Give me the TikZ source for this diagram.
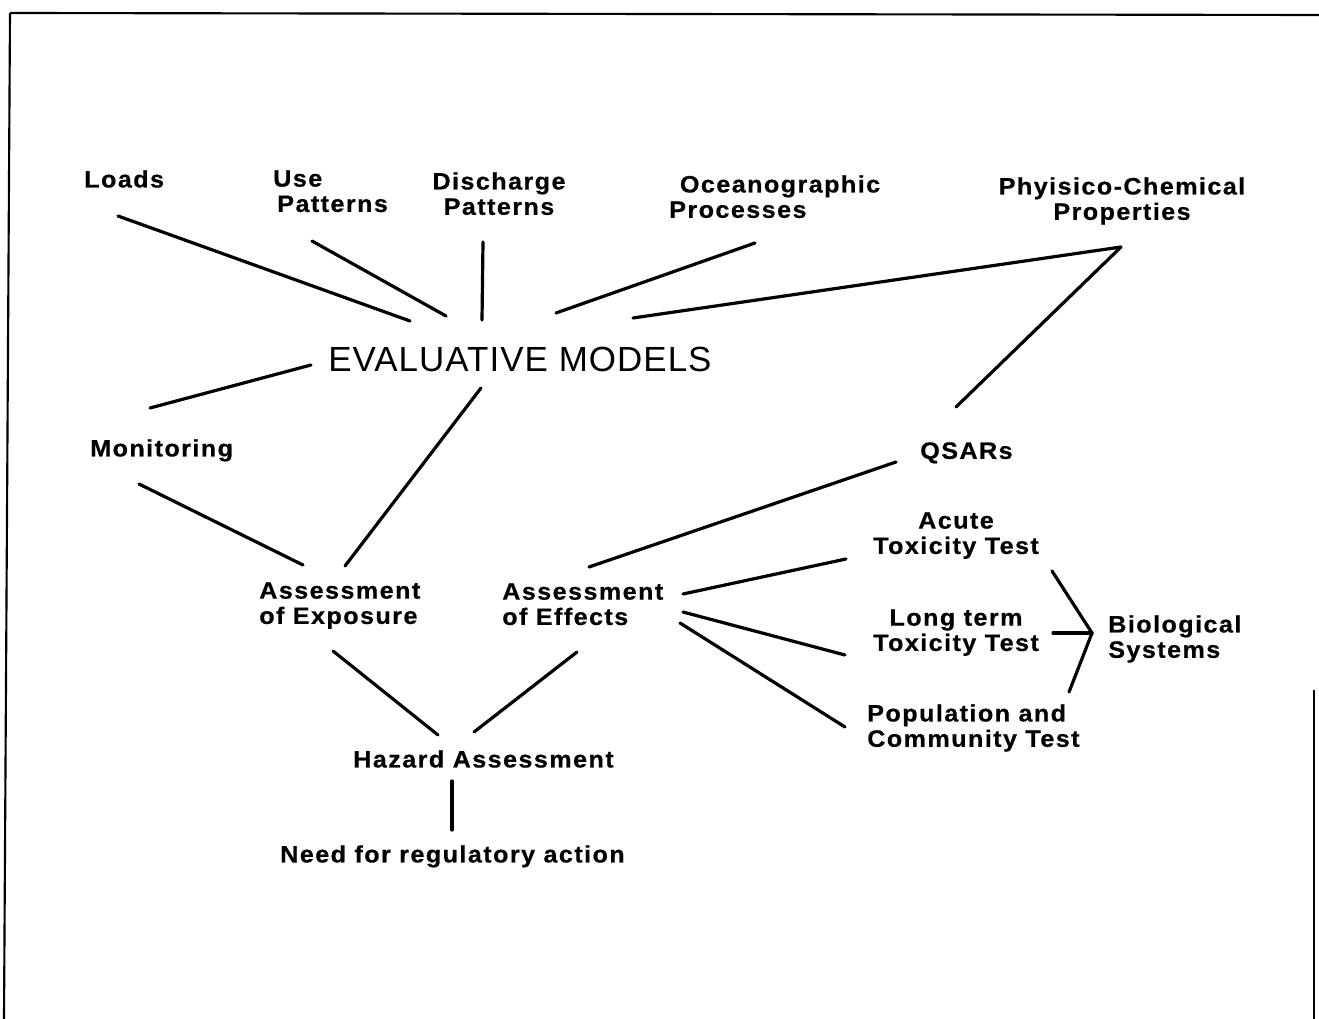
\documentclass[tikz,border=0pt]{standalone}
\usepackage{fontspec}
\setmainfont{Liberation Sans}[LetterSpace=6,FakeStretch=1.06,BoldFeatures={FakeBold=0.5}]
\newfontfamily\titlefont{Liberation Sans}[LetterSpace=3]
\begin{document}
\begin{tikzpicture}[x=0.75pt,y=-0.75pt,
  lbl/.style={inner sep=0pt,font=\fontsize{17.8}{19}\selectfont\bfseries},
  lblL/.style={lbl,align=left,anchor=north west},
  lblC/.style={lbl,align=center,anchor=north},
  title/.style={inner sep=0pt,anchor=north west,font=\titlefont\fontsize{26.2}{28}\selectfont},
  link/.style={line width=2.4pt,line cap=round,line join=round},
  frameline/.style={line width=1.6pt}]
\useasboundingbox (0,0) rectangle (1319,1019);

% page frame
\draw[frameline] (10,13) -- (1319,15);
\draw[frameline] (10,13) -- (4,1019);
\draw[frameline] (1314,690) -- (1314,1019);

% labels
\node[lblL] (loads) at (84,170) {Loads};
\node[lblL] (use) at (273,170) {Use\\\hspace*{3pt}Patterns};
\node[lblC] (disch) at (499,172) {Discharge\\Patterns};
\node[lblL] (ocean) at (669,175) {\hspace*{8pt}Oceanographic\\Processes};
\node[lblC] (phys) at (1122,177) {Phyisico-Chemical\\Properties};
\node[title] (em) at (328,347) {EVALUATIVE MODELS};
\node[lblL] (monit) at (90,439) {Monitoring};
\node[lblL] (qsar) at (920,442) {QSARs};
\node[lblC] (acute) at (956,512) {Acute\\Toxicity Test};
\node[lblL] (expo) at (259,582) {Assessment\\of Exposure};
\node[lblL] (effe) at (502,583) {Assessment\\of Effects};
\node[lblC] (longt) at (956,609) {Long term\\Toxicity Test};
\node[lblL] (bio) at (1108,615) {Biological\\Systems};
\node[lblL] (pop) at (867,704) {Population and\\Community Test};
\node[lblL] (hazard) at (353,750) {Hazard Assessment};
\node[lblL] (need) at (280,845) {Need for regulatory action};

% connector end points
\coordinate (loads-o) at (118,216);
\coordinate (em-loads) at (410,321);
\coordinate (use-o) at (312,241);
\coordinate (em-use) at (446,316);
\coordinate (disch-o) at (483,242);
\coordinate (em-disch) at (482,320);
\coordinate (ocean-o) at (755,243);
\coordinate (em-ocean) at (556,313);
\coordinate (phys-o) at (1121,247);
\coordinate (em-phys) at (633,318);
\coordinate (qsar-up) at (956,407);
\coordinate (em-monit) at (311,365);
\coordinate (monit-up) at (150,408);
\coordinate (em-down) at (481,388);
\coordinate (expo-up) at (345,566);
\coordinate (monit-down) at (139,484);
\coordinate (expo-left) at (303,565);
\coordinate (qsar-down) at (896,462);
\coordinate (effe-up) at (589,567);
\coordinate (effe-a) at (683,594);
\coordinate (acute-in) at (846,559);
\coordinate (effe-b) at (683,612);
\coordinate (longt-in) at (845,655);
\coordinate (effe-c) at (680,623);
\coordinate (pop-in) at (845,727);
\coordinate (expo-down) at (333,651);
\coordinate (hazard-l) at (438,735);
\coordinate (effe-down) at (577,652);
\coordinate (hazard-r) at (474,732);
\coordinate (hazard-down) at (452,781);
\coordinate (need-up) at (452,830);
\coordinate (acute-out) at (1052,571);
\coordinate (longt-out) at (1053,633);
\coordinate (bio-in) at (1092,633);
\coordinate (pop-out) at (1069,692);

% connectors
\draw[link] (loads-o) -- (em-loads);
\draw[link] (use-o) -- (em-use);
\draw[link] (disch-o) -- (em-disch);
\draw[link] (ocean-o) -- (em-ocean);
\draw[link] (em-phys) -- (phys-o) -- (qsar-up);
\draw[link] (em-monit) -- (monit-up);
\draw[link] (em-down) -- (expo-up);
\draw[link] (monit-down) -- (expo-left);
\draw[link] (qsar-down) -- (effe-up);
\draw[link] (effe-a) -- (acute-in);
\draw[link] (effe-b) -- (longt-in);
\draw[link] (effe-c) -- (pop-in);
\draw[link] (expo-down) -- (hazard-l);
\draw[link] (effe-down) -- (hazard-r);
\draw[link] (hazard-down) -- (need-up);
\draw[link] (acute-out) -- (bio-in) -- (pop-out);
\draw[link] (longt-out) -- (bio-in);
\end{tikzpicture}
\end{document}
